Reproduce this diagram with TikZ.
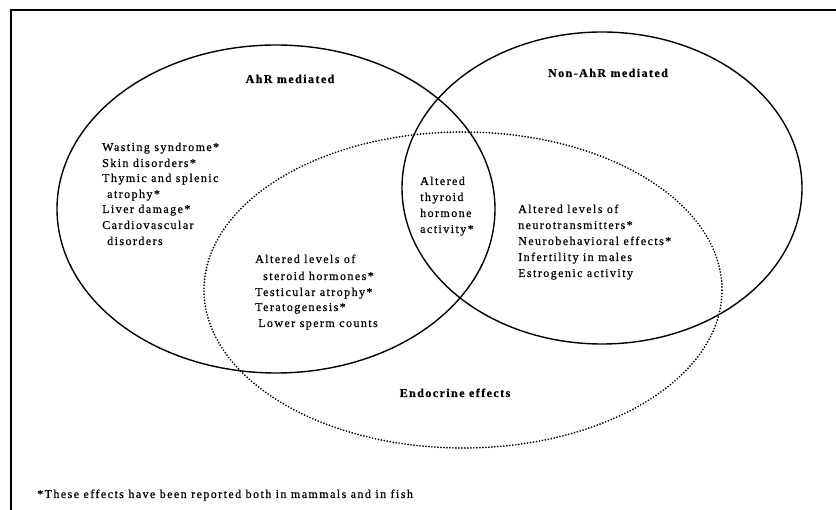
\documentclass[tikz,border=0pt]{standalone}
\usepackage{fontspec}
\setmainfont{Liberation Serif}[LetterSpace=12, FakeBold=0.6, BoldFeatures={FakeBold=0.8}]
\begin{document}
\begin{tikzpicture}[x=1pt,y=-1pt,
  txt/.style={anchor=base west, inner sep=0pt, font=\fontsize{12}{15}\selectfont},
  hd/.style={anchor=base, inner sep=0pt, font=\fontsize{12}{15}\selectfont\bfseries},
  frame/.style={line width=1.8pt},
  venn/.style={line width=1.4pt},
  dotring/.style={line width=1.9pt, line cap=round, dash pattern=on 0pt off 3pt}]
\useasboundingbox (0,0) rectangle (836,510);
\coordinate (fr) at (836,10);
\coordinate (fc) at (11,10);
\coordinate (fb) at (11,510);
\draw[frame] (fr) -- (fc) -- (fb);
% circles
\draw[venn] (276,209) ellipse [x radius=219pt, y radius=164pt];
\draw[venn] (602,188) ellipse [x radius=200pt, y radius=156pt];
\draw[dotring] (463,290) ellipse [x radius=259pt, y radius=158pt];
% headings
\node[hd] (ahr) at (290,83) {AhR mediated};
\node[hd] (nonahr) at (608,77) {Non-AhR mediated};
\node[hd] (endo) at (455,397) {Endocrine effects};
% left list
\node[txt] (l1) at (102,151) {Wasting syndrome*};
\node[txt] (l2) at (102,167) {Skin disorders*};
\node[txt] (l3) at (102,182) {Thymic and splenic};
\node[txt] (l4) at (107,198) {atrophy*};
\node[txt] (l5) at (102,213) {Liver damage*};
\node[txt] (l6) at (102,229) {Cardiovascular};
\node[txt] (l7) at (107,245) {disorders};
% centre-lower list
\node[txt] (c1) at (255,263) {Altered levels of};
\node[txt] (c2) at (263,280) {steroid hormones*};
\node[txt] (c3) at (255,296) {Testicular atrophy*};
\node[txt] (c4) at (255,311) {Teratogenesis*};
\node[txt] (c5) at (258,327) {Lower sperm counts};
% thyroid
\node[txt] (t1) at (420,185) {Altered};
\node[txt] (t2) at (420,201) {thyroid};
\node[txt] (t3) at (420,217) {hormone};
\node[txt] (t4) at (420,233) {activity*};
% right list
\node[txt] (r1) at (518,213) {Altered levels of};
\node[txt] (r2) at (518,229) {neurotransmitters*};
\node[txt] (r3) at (518,245) {Neurobehavioral effects*};
\node[txt] (r4) at (518,261) {Infertility in males};
\node[txt] (r5) at (518,277) {Estrogenic activity};
% footnote
\node[txt] (fn) at (37,498) {*These effects have been reported both in mammals and in fish};
\end{tikzpicture}
\end{document}
